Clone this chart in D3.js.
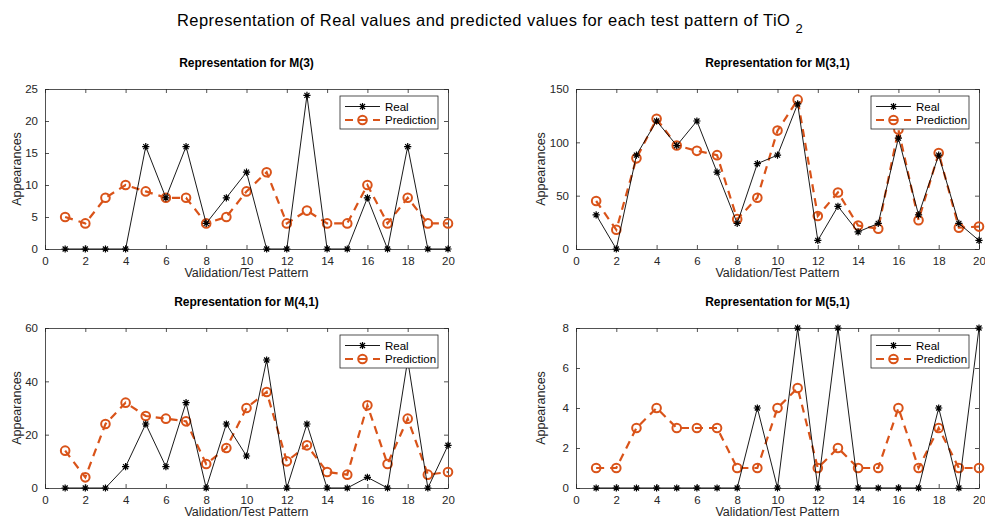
<!DOCTYPE html>
<html>
<head>
<meta charset="utf-8">
<script src="https://cdn.jsdelivr.net/npm/d3@7"></script>
<style>
  html, body { margin: 0; padding: 0; background: #fff; }
  svg { display: block; font-family: "Liberation Sans", Arial, Helvetica, sans-serif; }
</style>
</head>
<body>
<svg id="chart" width="985" height="522"></svg>
<script>
// Test pattern indices shared by all panels
const patterns = d3.range(1, 21);
const xTicks = [0, 2, 4, 6, 8, 10, 12, 14, 16, 18, 20];

// M(3)
const realM3 = [0, 0, 0, 0, 16, 8, 16, 4, 8, 12, 0, 0, 24, 0, 0, 8, 0, 16, 0, 0];
const predM3 = [5, 4, 8, 10, 9, 8, 8, 4, 5, 9, 12, 4, 6, 4, 4, 10, 4, 8, 4, 4];
const yTicksM3 = [0, 5, 10, 15, 20, 25];

// M(3,1)
const realM31 = [32, 0, 88, 120, 97, 120, 72, 24, 80, 88, 136, 8, 40, 16, 24, 104, 32, 88, 24, 8];
const predM31 = [45, 18, 85, 122, 97, 92, 88, 28, 48, 111, 140, 31, 53, 22, 19, 112, 27, 90, 20, 21];
const yTicksM31 = [0, 50, 100, 150];

// M(4,1)
const realM41 = [0, 0, 0, 8, 24, 8, 32, 0, 24, 12, 48, 0, 24, 0, 0, 4, 0, 48, 0, 16];
const predM41 = [14, 4, 24, 32, 27, 26, 25, 9, 15, 30, 36, 10, 16, 6, 5, 31, 9, 26, 5, 6];
const yTicksM41 = [0, 20, 40, 60];

// M(5,1)
const realM51 = [0, 0, 0, 0, 0, 0, 0, 0, 4, 0, 8, 0, 8, 0, 0, 0, 0, 4, 0, 8];
const predM51 = [1, 1, 3, 4, 3, 3, 3, 1, 1, 4, 5, 1, 2, 1, 1, 4, 1, 3, 1, 1];
const yTicksM51 = [0, 2, 4, 6, 8];

const seriesNames = ["Real", "Prediction"];

const panels = [
  { title: "Representation for M(3)",   real: realM3,  pred: predM3,  yTicks: yTicksM3,  x0: 45,  y0: 89,  ylabX: 17 },
  { title: "Representation for M(3,1)", real: realM31, pred: predM31, yTicks: yTicksM31, x0: 576, y0: 89,  ylabX: 541 },
  { title: "Representation for M(4,1)", real: realM41, pred: predM41, yTicks: yTicksM41, x0: 45,  y0: 328, ylabX: 17 },
  { title: "Representation for M(5,1)", real: realM51, pred: predM51, yTicks: yTicksM51, x0: 576, y0: 328, ylabX: 541 }
];

const W = 403, H = 160;
const axisColor = "#262626";
const orange = "#D95319";

const svg = d3.select("#chart");

// Figure title with subscript
const mainTitle = svg.append("text")
  .attr("x", 490).attr("y", 26)
  .attr("text-anchor", "middle")
  .attr("font-size", 16.5)
  .attr("letter-spacing", 0.45)
  .attr("fill", "#000");
mainTitle.append("tspan").text("Representation of Real values and predicted values for each test pattern of TiO ");
mainTitle.append("tspan").attr("dy", 7).attr("font-size", 13).text("2");

// Asterisk marker path centered on 0,0
function starPath(r) {
  const p = [];
  for (let i = 0; i < 4; i++) {
    const a = i * Math.PI / 4;
    const dx = r * Math.cos(a), dy = r * Math.sin(a);
    p.push(`M${-dx},${-dy}L${dx},${dy}`);
  }
  return p.join("");
}

panels.forEach(pn => {
  const g = svg.append("g").attr("transform", `translate(${pn.x0},${pn.y0})`);
  const x = d3.scaleLinear().domain([0, 20]).range([0, W]);
  const yMax = pn.yTicks[pn.yTicks.length - 1];
  const y = d3.scaleLinear().domain([0, yMax]).range([H, 0]);

  // Axes box with inward ticks on all four sides
  const styleAxis = sel => {
    sel.selectAll("path.domain").attr("stroke", axisColor).attr("stroke-width", 0.8);
    sel.selectAll(".tick line").attr("stroke", axisColor).attr("stroke-width", 0.8);
    sel.selectAll(".tick text").attr("fill", axisColor).attr("font-size", 11.5)
      .attr("font-family", "\"Liberation Sans\", Arial, sans-serif");
  };
  g.append("g").attr("transform", `translate(0,${H})`)
    .call(d3.axisBottom(x).tickValues(xTicks).tickSizeInner(-4).tickSizeOuter(0).tickPadding(8))
    .call(styleAxis);
  g.append("g")
    .call(d3.axisTop(x).tickValues(xTicks).tickSizeInner(-4).tickSizeOuter(0).tickFormat(""))
    .call(styleAxis);
  g.append("g")
    .call(d3.axisLeft(y).tickValues(pn.yTicks).tickSizeInner(-4).tickSizeOuter(0).tickPadding(7))
    .call(styleAxis);
  g.append("g").attr("transform", `translate(${W},0)`)
    .call(d3.axisRight(y).tickValues(pn.yTicks).tickSizeInner(-4).tickSizeOuter(0).tickFormat(""))
    .call(styleAxis);

  // Prediction: dashed orange line with hollow circles
  const line = d3.line().x((d, i) => x(patterns[i])).y(d => y(d));
  g.append("path").datum(pn.pred)
    .attr("d", line)
    .attr("fill", "none")
    .attr("stroke", orange)
    .attr("stroke-width", 2.2)
    .attr("stroke-dasharray", "8,6");
  g.selectAll("circle.pred").data(pn.pred).join("circle")
    .attr("class", "pred")
    .attr("cx", (d, i) => x(patterns[i]))
    .attr("cy", d => y(d))
    .attr("r", 4.3)
    .attr("fill", "none")
    .attr("stroke", orange)
    .attr("stroke-width", 2);

  // Real: thin black line with asterisks
  g.append("path").datum(pn.real)
    .attr("d", line)
    .attr("fill", "none")
    .attr("stroke", "#000")
    .attr("stroke-width", 0.9);
  g.selectAll("path.real").data(pn.real).join("path")
    .attr("class", "real")
    .attr("transform", (d, i) => `translate(${x(patterns[i])},${y(d)})`)
    .attr("d", starPath(3.6))
    .attr("stroke", "#000")
    .attr("stroke-width", 1.2);

  // Legend
  const lg = g.append("g").attr("transform", `translate(${W - 108},7)`);
  lg.append("rect").attr("width", 98).attr("height", 33)
    .attr("fill", "#fff").attr("stroke", axisColor).attr("stroke-width", 0.8);
  const r1 = lg.append("g").attr("transform", "translate(0,10.5)");
  r1.append("line").attr("x1", 5).attr("x2", 40).attr("stroke", "#000").attr("stroke-width", 0.9);
  r1.append("path").attr("transform", "translate(22.5,0)").attr("d", starPath(3.6))
    .attr("stroke", "#000").attr("stroke-width", 1.2);
  r1.append("text").attr("x", 45).attr("dy", "0.35em").attr("font-size", 11.5).attr("fill", "#000").text(seriesNames[0]);
  const r2 = lg.append("g").attr("transform", "translate(0,24)");
  r2.append("line").attr("x1", 5).attr("x2", 40).attr("stroke", orange).attr("stroke-width", 2.2)
    .attr("stroke-dasharray", "8,6");
  r2.append("circle").attr("cx", 22.5).attr("r", 4.3).attr("fill", "none")
    .attr("stroke", orange).attr("stroke-width", 2);
  r2.append("text").attr("x", 45).attr("dy", "0.35em").attr("font-size", 11.5).attr("fill", "#000").text(seriesNames[1]);

  // Panel title and axis labels
  g.append("text").attr("x", W / 2).attr("y", -22)
    .attr("text-anchor", "middle").attr("font-size", 12).attr("font-weight", "bold")
    .attr("fill", "#000").text(pn.title);
  g.append("text").attr("x", W / 2).attr("y", H + 28)
    .attr("text-anchor", "middle").attr("font-size", 12.5).attr("fill", axisColor)
    .text("Validation/Test Pattern");
  svg.append("text")
    .attr("transform", `translate(${pn.ylabX},${pn.y0 + H / 2}) rotate(-90)`)
    .attr("text-anchor", "middle").attr("dy", "0.35em")
    .attr("font-size", 12.5).attr("fill", axisColor)
    .text("Appearances");
});
</script>
</body>
</html>
